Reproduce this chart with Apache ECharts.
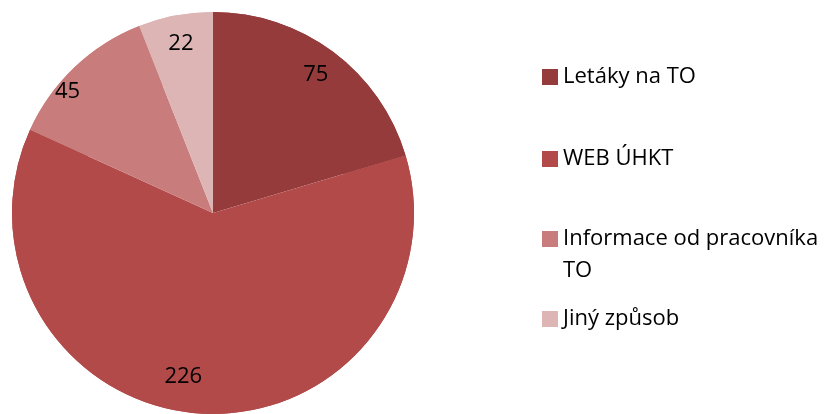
<!DOCTYPE html>
<html>
<head>
<meta charset="utf-8">
<script src="https://cdn.jsdelivr.net/npm/echarts@6/dist/echarts.min.js"></script>
<style>
  html, body { margin: 0; padding: 0; background: #fff; }
  #chart { width: 836px; height: 414px; }
</style>
</head>
<body>
<div id="chart"></div>
<script>
// data
const categories = ['Letáky na TO', 'WEB ÚHKT', 'Informace od pracovníka TO', 'Jiný způsob'];
const values = [75, 226, 45, 22];
const colors = ['#953b3b', '#b24a4a', '#c97c7c', '#ddb5b5'];
// small nudges so the value labels sit where Excel put them
const labelOffsets = [[0, 0], [-18, -8], [-27, 3], [0, 0]];
const legendCenters = [77, 159, 239, 319];

const font = 'Open Sans';
const pieData = categories.map((name, i) => ({
    name: name,
    value: values[i],
    itemStyle: { color: colors[i] },
    label: { offset: labelOffsets[i] }
}));

// one legend per item, the long one gets its second line as a separate text
const legends = categories.map((name, i) => ({
    data: [name],
    left: 542,
    top: legendCenters[i] - 12,
    padding: 0,
    icon: 'rect',
    itemWidth: 16,
    itemHeight: 16,
    itemGap: 5,
    selectedMode: false,
    formatter: n => n === 'Informace od pracovníka TO' ? 'Informace od pracovníka' : n,
    textStyle: {
        fontFamily: font,
        fontSize: 22,
        lineHeight: 24,
        color: '#000'
    }
}));

const myChart = echarts.init(document.getElementById('chart'));
myChart.setOption({
    animation: false,
    legend: legends,
    graphic: [{
        type: 'text',
        left: 563,
        top: 271 - 12,
        style: {
            text: 'TO',
            font: '22px "Open Sans"',
            fill: '#000',
            lineHeight: 24
        }
    }],
    series: [
        {
            // full pie, no labels
            type: 'pie',
            center: [213, 213],
            radius: [0, 201],
            startAngle: 90,
            clockwise: true,
            silent: true,
            label: { show: false },
            labelLine: { show: false },
            itemStyle: { borderWidth: 0 },
            data: pieData
        },
        {
            // outer ring only used to place the value labels near the rim
            type: 'pie',
            center: [213, 213],
            radius: [137, 201],
            startAngle: 90,
            clockwise: true,
            silent: true,
            label: {
                show: true,
                position: 'inside',
                formatter: '{c}',
                fontFamily: font,
                fontSize: 22,
                color: '#000'
            },
            labelLine: { show: false },
            itemStyle: { borderWidth: 0 },
            data: pieData
        }
    ]
});
</script>
</body>
</html>
